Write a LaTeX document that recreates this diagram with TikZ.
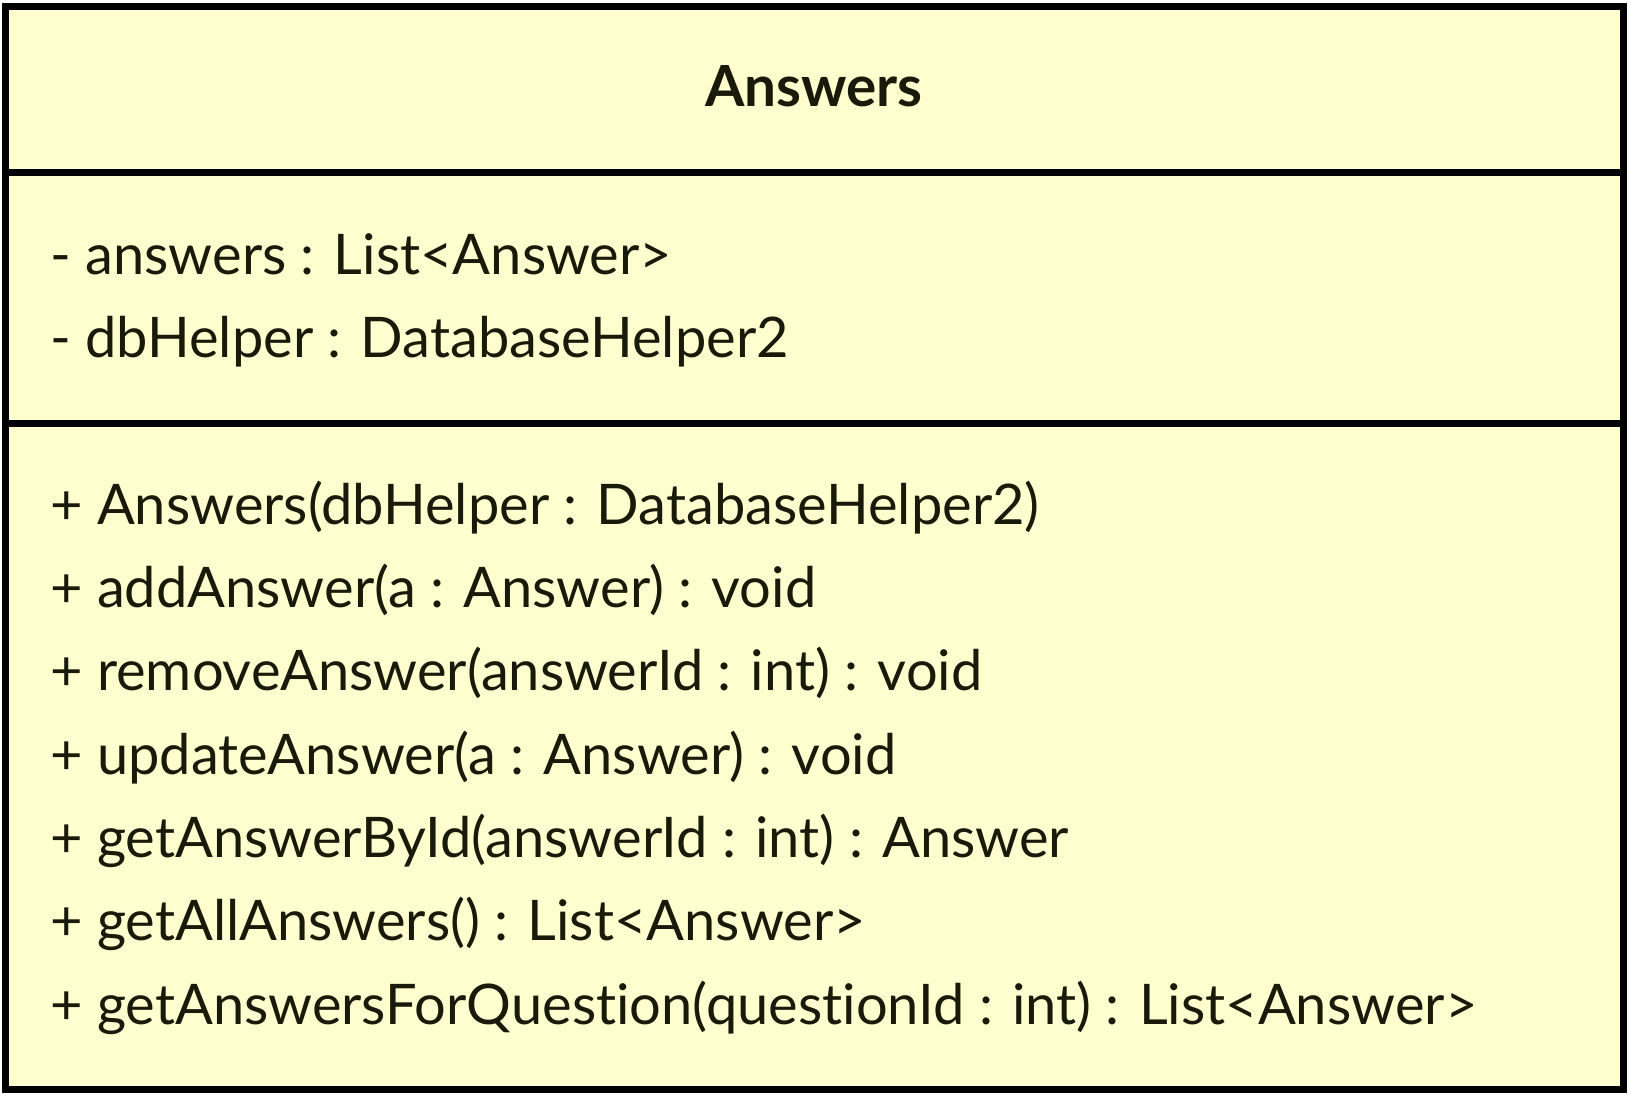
\documentclass[tikz,border=0pt]{standalone}
\usepackage{fontspec}
\setmainfont{Lato}[Ligatures={NoCommon,NoRare}]
\definecolor{umlfill}{HTML}{FEFECE}
\definecolor{umltext}{HTML}{1A1A0A}
\begin{document}
\begin{tikzpicture}[x=0.75pt,y=-0.75pt,
  member/.style={anchor=base west,inner sep=0pt,text=umltext,font=\fontsize{42}{44}\selectfont},
  title/.style={anchor=base,inner sep=0pt,text=umltext,font=\fontsize{42.5}{45}\selectfont\bfseries},
  border/.style={draw=black,line width=5.25pt}]
\useasboundingbox (0,0) rectangle (1630,1098);
\fill[white] (0,0) rectangle (1630,1098);
\node[border,fill=umlfill,minimum width=1213.1pt,minimum height=811.9pt,inner sep=0pt,anchor=center] (box) at (814.25,547.75) {};
\coordinate (d1l) at (box.west |- 0,173); \coordinate (d1r) at (box.east |- 0,173);
\coordinate (d2l) at (box.west |- 0,423); \coordinate (d2r) at (box.east |- 0,423);
\draw[border] (d1l) -- (d1r);
\draw[border] (d2l) -- (d2r);
\node[title] (t) at (814,107) {Answers};
\node[member] (a1) at (50,274) {- answers : List<Answer>};
\node[member] (a2) at (50,357) {- dbHelper : DatabaseHelper2};
\node[member] (m1) at (50,524) {+ Answers(dbHelper : DatabaseHelper2)};
\node[member] (m2) at (50,607) {+ addAnswer(a : Answer) : void};
\node[member] (m3) at (50,690) {+ removeAnswer(answerId : int) : void};
\node[member] (m4) at (50,774) {+ updateAnswer(a : Answer) : void};
\node[member] (m5) at (50,857) {+ getAnswerById(answerId : int) : Answer};
\node[member] (m6) at (50,940) {+ getAllAnswers() : List<Answer>};
\node[member] (m7) at (50,1024) {+ getAnswersForQuestion(questionId : int) : List<Answer>};
\end{tikzpicture}
\end{document}
